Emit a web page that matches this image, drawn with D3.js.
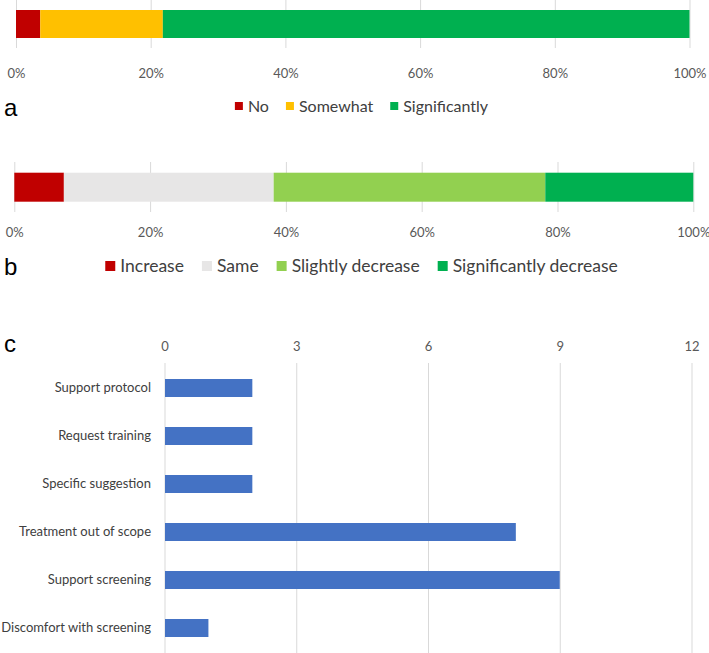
<!DOCTYPE html>
<html>
<head>
<meta charset="utf-8">
<script src="https://cdn.jsdelivr.net/npm/d3@7"></script>
<style>
  body { margin: 0; background: #fff; }
  svg { display: block; }
  text { font-family: Lato, "Open Sans", sans-serif; }
</style>
</head>
<body>
<script>
// chart a
const aKeys = ["No", "Somewhat", "Significantly"];
const aValues = [3.6, 18.2, 78.2];
const aColors = ["#c00000", "#ffc000", "#00b050"];
// chart b
const bKeys = ["Increase", "Same", "Slightly decrease", "Significantly decrease"];
const bValues = [7.3, 30.9, 40.0, 21.8];
const bColors = ["#c00000", "#e7e6e6", "#92d050", "#00b050"];
// chart c
const cCategories = ["Support protocol", "Request training", "Specific suggestion",
  "Treatment out of scope", "Support screening", "Discomfort with screening"];
const cValues = [2, 2, 2, 8, 9, 1];
const pctTicks = [0, 20, 40, 60, 80, 100];
const countTicks = [0, 3, 6, 9, 12];

const width = 709, height = 653;
const gridColor = "#d9d9d9", labelColor = "#595959";

const svg = d3.select("body").append("svg")
  .attr("width", width)
  .attr("height", height);

// stacked 100% bar with grid, tick labels and legend
function stackedBar(opt) {
  const x = d3.scaleLinear().domain([0, 100]).range(opt.xRange);
  const g = svg.append("g");

  // gridlines
  const grid = g.append("g")
    .attr("transform", "translate(0," + opt.gridTop + ")")
    .call(d3.axisBottom(x).tickValues(pctTicks).tickSize(opt.gridBottom - opt.gridTop).tickFormat(""));
  grid.select(".domain").remove();
  grid.selectAll("line").attr("stroke", gridColor);

  // segments
  let cum = 0;
  const segs = opt.values.map((v, i) => {
    const s = { key: opt.keys[i], x0: cum, x1: cum + v, color: opt.colors[i] };
    cum += v;
    return s;
  });
  g.selectAll("rect.seg").data(segs).join("rect")
    .attr("class", "seg")
    .attr("x", d => x(d.x0))
    .attr("width", d => x(d.x1) - x(d.x0))
    .attr("y", opt.barTop)
    .attr("height", opt.barHeight)
    .attr("fill", d => d.color);

  // tick labels
  const lab = g.append("g")
    .attr("transform", "translate(0," + opt.labelY + ")")
    .call(d3.axisBottom(x).tickValues(pctTicks).tickSize(0).tickFormat(d => d + "%"));
  lab.select(".domain").remove();
  lab.selectAll("text")
    .attr("y", 0).attr("dy", "0.35em")
    .attr("fill", labelColor)
    .style("font-size", "13px")
    .style("font-family", "Lato, sans-serif");

  // legend
  const leg = g.append("g");
  const items = leg.selectAll("g").data(segs).join("g");
  items.append("rect")
    .attr("width", opt.sq).attr("height", opt.sq)
    .attr("y", -opt.sq / 2)
    .attr("fill", d => d.color);
  items.append("text")
    .attr("x", opt.sq + 5)
    .attr("dy", "0.35em")
    .attr("fill", "#404040")
    .style("font-size", opt.legendFont + "px")
    .text(d => d.key);
  let lx = 0;
  items.each(function () {
    const w = opt.sq + 5 + this.querySelector("text").getComputedTextLength();
    d3.select(this).attr("transform", "translate(" + lx + ",0)");
    lx += w + opt.itemGap;
  });
  const total = lx - opt.itemGap;
  leg.attr("transform", "translate(" + (opt.legendCenter - total / 2) + "," + opt.legendY + ")");

  // panel letter
  svg.append("text")
    .attr("x", 4).attr("y", opt.letterY)
    .style("font-family", "'Liberation Sans', Arial, sans-serif")
    .style("font-size", "24px")
    .attr("fill", "#000")
    .text(opt.letter);
}

stackedBar({
  keys: aKeys, values: aValues, colors: aColors,
  xRange: [16, 689.5], gridTop: 0, gridBottom: 48,
  barTop: 10, barHeight: 28, labelY: 73,
  legendY: 106, legendCenter: 361.5, sq: 8, legendFont: 16, itemGap: 17,
  letter: "a", letterY: 116
});

stackedBar({
  keys: bKeys, values: bValues, colors: bColors,
  xRange: [14.3, 693.3], gridTop: 162, gridBottom: 212,
  barTop: 172.7, barHeight: 29, labelY: 232,
  legendY: 266, legendCenter: 361.5, sq: 10, legendFont: 17.5, itemGap: 18,
  letter: "b", letterY: 275
});

// chart c: horizontal bars
const xC = d3.scaleLinear().domain([0, 12]).range([164.5, 691.5]);
const yC = d3.scaleBand().domain(cCategories).range([364, 652])
  .paddingInner(0.625).paddingOuter(0.3125);

const gc = svg.append("g");
const gridC = gc.append("g")
  .attr("transform", "translate(0,363)")
  .call(d3.axisBottom(xC).tickValues(countTicks).tickSize(height - 363).tickFormat(""));
gridC.select(".domain").remove();
gridC.selectAll("line").attr("stroke", gridColor);

const topAxis = gc.append("g")
  .attr("transform", "translate(0,346)")
  .call(d3.axisTop(xC).tickValues(countTicks).tickSize(0));
topAxis.select(".domain").remove();
topAxis.selectAll("text")
  .attr("y", 0).attr("dy", "0.35em")
  .attr("fill", labelColor)
  .style("font-size", "13px")
  .style("font-family", "Lato, sans-serif");

gc.selectAll("rect.bar").data(cCategories).join("rect")
  .attr("class", "bar")
  .attr("x", xC(0) + 0.5)
  .attr("y", d => yC(d))
  .attr("height", yC.bandwidth())
  .attr("width", (d, i) => xC(cValues[i]) - xC(0) - 0.5)
  .attr("fill", "#4472c4");

const leftAxis = gc.append("g")
  .attr("transform", "translate(151,0)")
  .call(d3.axisLeft(yC).tickSize(0).tickPadding(0));
leftAxis.select(".domain").remove();
leftAxis.selectAll("text")
  .attr("fill", "#404040")
  .style("font-size", "13px")
  .style("font-family", "Lato, sans-serif");

svg.append("text")
  .attr("x", 4).attr("y", 352)
  .style("font-family", "'Liberation Sans', Arial, sans-serif")
  .style("font-size", "24px")
  .attr("fill", "#000")
  .text("c");
</script>
</body>
</html>
